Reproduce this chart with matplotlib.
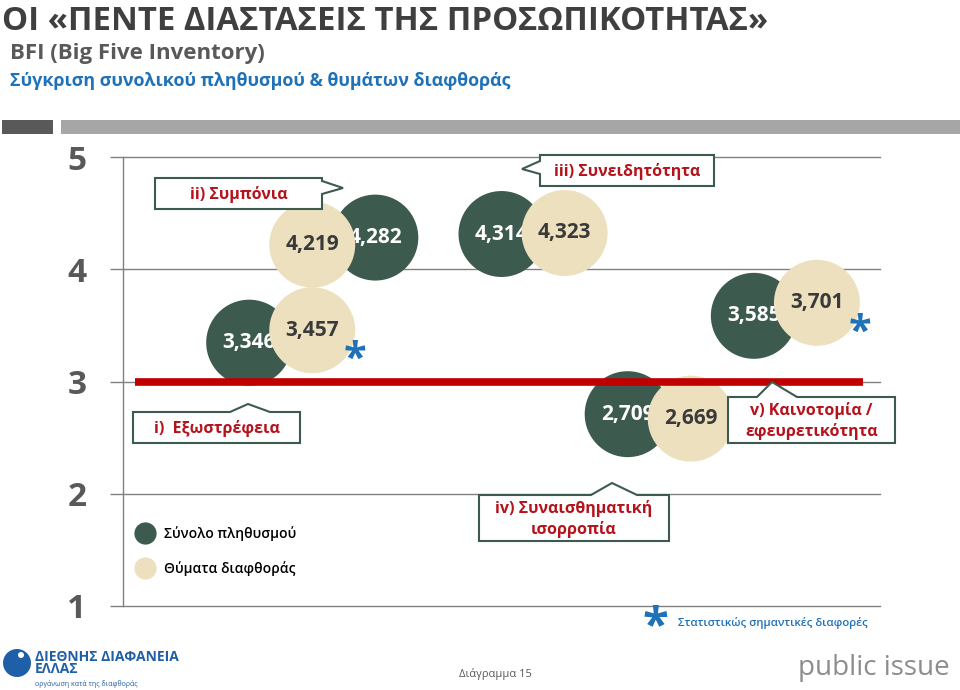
import matplotlib
matplotlib.use("Agg")
import matplotlib.pyplot as plt
from matplotlib.lines import Line2D
from matplotlib.patches import Polygon, Rectangle, Ellipse

plt.rcParams["font.family"] = ["Open Sans", "DejaVu Sans"]

# ---------------------------------------------------------------
# Data
# ---------------------------------------------------------------
trait_labels = [
    "i)  Εξωστρέφεια",
    "ii) Συμπόνια",
    "iii) Συνειδητότητα",
    "iv) Συναισθηματική\nισορροπία",
    "v) Καινοτομία /\nεφευρετικότητα",
]
total_values = [3.346, 4.282, 4.314, 2.709, 3.585]
victim_values = [3.457, 4.219, 4.323, 2.669, 3.701]
total_x = [0, 2, 4, 6, 8]
victim_x = [1, 1, 5, 7, 9]
significant = [True, False, False, False, True]
scale_ticks = [1, 2, 3, 4, 5]
scale_mid = 3

series_names = ["Σύνολο πληθυσμού", "Θύματα διαφθοράς"]

title = "ΟΙ «ΠΕΝΤΕ ΔΙΑΣΤΑΣΕΙΣ ΤΗΣ ΠΡΟΣΩΠΙΚΟΤΗΤΑΣ»"
subtitle = "BFI (Big Five Inventory)"
subtitle2 = "Σύγκριση συνολικού πληθυσμού & θυμάτων διαφθοράς"
footnote = "Στατιστικώς σημαντικές διαφορές"
chart_no = "Διάγραμμα 15"

# ---------------------------------------------------------------
# Styles
# ---------------------------------------------------------------
DARK = "#3d5a4f"
BEIGE = "#ede0bf"
RED = "#c00000"
TEXT_RED = "#b5121b"
BLUE = "#1f72b8"
GRID = "#808080"
BOX_EDGE = "#3d5a50"

W, H = 960, 690
fig = plt.figure(figsize=(W / 100, H / 100), dpi=100)


def px(x, y):
    """pixel coords (from top-left) -> figure fraction"""
    return x / W, 1 - y / H


ax = fig.add_axes([123 / W, 1 - 606 / H, (880 - 123) / W, (606 - 157) / H])
ax.set_xlim(-2, 10)
ax.set_ylim(1, 5)

for side in ["top", "right", "bottom"]:
    ax.spines[side].set_visible(False)
ax.spines["left"].set_color(GRID)
ax.spines["left"].set_linewidth(1)

ax.set_xticks([])
ax.set_yticks(scale_ticks)
ax.set_yticklabels([str(t) for t in scale_ticks], fontsize=24,
                   fontweight="bold", color="#595959")
ax.tick_params(axis="y", length=9.4, width=1, color=GRID, pad=17)
ax.yaxis.grid(True, color=GRID, linewidth=1)
for gl in ax.get_ygridlines():
    gl.set_clip_on(False)
ax.set_axisbelow(True)

# ---------------------------------------------------------------
# Bubbles
# ---------------------------------------------------------------
bubble_size = 3830


def fmt(v):
    return f"{v:.3f}".replace(".", ",")


ax.scatter(total_x, total_values, s=bubble_size, color=DARK,
           edgecolors="none", zorder=2)
for x, v in zip(total_x, total_values):
    ax.text(x, v, fmt(v), ha="center", va="center", fontsize=15,
            fontweight="bold", color="white", zorder=3)

ax.scatter(victim_x, victim_values, s=bubble_size, color=BEIGE,
           edgecolors="none", zorder=4)
for x, v in zip(victim_x, victim_values):
    ax.text(x, v, fmt(v), ha="center", va="center", fontsize=15,
            fontweight="bold", color="#3a3a3a", zorder=5)

for x, v, sig in zip(victim_x, victim_values, significant):
    if sig:
        ax.annotate("*", (x, v), xytext=(31, -22), textcoords="offset points",
                    ha="center", va="center", fontsize=30, fontweight="bold",
                    color=BLUE, zorder=6)

ax.axhline(scale_mid, xmin=0.016, xmax=0.978, color=RED, linewidth=5.5,
           solid_capstyle="butt", zorder=6)

# ---------------------------------------------------------------
# Callouts (pixel geometry)
# ---------------------------------------------------------------
callouts = [
    # box (x0, y0, x1, y1), pointer points
    ((133, 412, 300, 443), [(230, 412), (248, 404), (270, 412)]),
    ((155, 178, 322, 209), [(322, 181), (343, 188), (322, 194)]),
    ((540, 155, 714, 186), [(540, 161), (522, 169), (540, 174)]),
    ((479, 495, 669, 541), [(591, 495), (612, 483), (637, 495)]),
    ((728, 397, 895, 443), [(757, 397), (772, 382), (797, 397)]),
]


def box_outline(box, pointer):
    x0, y0, x1, y1 = box
    corners = [(x0, y0), (x1, y0), (x1, y1), (x0, y1)]
    edges = [(corners[i], corners[(i + 1) % 4]) for i in range(4)]
    pts = []
    p0 = pointer[0]
    for a, b in edges:
        pts.append(a)
        on_edge = ((a[1] == b[1] == p0[1] and min(a[0], b[0]) <= p0[0] <= max(a[0], b[0]))
                   or (a[0] == b[0] == p0[0] and min(a[1], b[1]) <= p0[1] <= max(a[1], b[1])))
        if on_edge:
            seq = list(pointer)
            # order along the edge direction
            d = (b[0] - a[0], b[1] - a[1])
            if (seq[-1][0] - seq[0][0]) * d[0] + (seq[-1][1] - seq[0][1]) * d[1] < 0:
                seq = seq[::-1]
            pts.extend(seq)
    return [px(*p) for p in pts]


for label, (box, pointer) in zip(trait_labels, callouts):
    poly = Polygon(box_outline(box, pointer), closed=True, transform=fig.transFigure,
                   facecolor="white", edgecolor=BOX_EDGE, linewidth=1.5, zorder=5)
    fig.add_artist(poly)
    cx = (box[0] + box[2]) / 2
    cy = (box[1] + box[3]) / 2
    fig.text(*px(cx, cy + 1), label, ha="center", va="center", fontsize=11.5,
             fontweight="bold", color=TEXT_RED, linespacing=1.25, zorder=6)

# ---------------------------------------------------------------
# Legend
# ---------------------------------------------------------------
handles = [
    Line2D([], [], marker="o", linestyle="none", markersize=16,
           markerfacecolor=DARK, markeredgecolor="none"),
    Line2D([], [], marker="o", linestyle="none", markersize=16,
           markerfacecolor=BEIGE, markeredgecolor="none"),
]
fig.legend(handles, series_names, loc="upper left",
           bbox_to_anchor=px(137, 526), frameon=False,
           labelspacing=1.45, handletextpad=0.75, handlelength=1.2,
           borderaxespad=0, borderpad=0,
           prop={"weight": "semibold", "size": 10})

# ---------------------------------------------------------------
# Header
# ---------------------------------------------------------------
fig.text(*px(2, 30), title, ha="left", va="baseline", fontsize=23.7,
         fontweight="bold", color="#3f3f3f")
fig.text(*px(10, 59), subtitle, ha="left", va="baseline", fontsize=16,
         fontweight="bold", color="#595959")
fig.text(*px(10, 86), subtitle2, ha="left", va="baseline", fontsize=12.9,
         fontweight="bold", color=BLUE)

fig.add_artist(Rectangle(px(2, 134), 51 / W, 14 / H, transform=fig.transFigure,
                         facecolor="#595959", edgecolor="none"))
fig.add_artist(Rectangle(px(61, 134), (W - 61) / W, 14 / H, transform=fig.transFigure,
                         facecolor="#a6a6a6", edgecolor="none"))

# ---------------------------------------------------------------
# Footer
# ---------------------------------------------------------------
fig.text(*px(655, 640), "*", ha="center", va="baseline", fontsize=34,
         fontweight="bold", color=BLUE)
fig.text(*px(678, 626), footnote, ha="left", va="baseline", fontsize=8.2,
         fontweight="semibold", color=BLUE)
fig.text(*px(495, 677), chart_no, ha="center", va="baseline", fontsize=8,
         color="#595959")
fig.text(*px(798, 675), "public issue", ha="left", va="baseline", fontsize=20,
         color="#8c8c8c")

# logo
LOGO = "#1f5fa8"
fig.add_artist(Ellipse(px(17, 663), 28 / W, 28 / H, transform=fig.transFigure,
                       facecolor=LOGO, edgecolor="none"))
fig.add_artist(Ellipse(px(21, 655), 6 / W, 6 / H, transform=fig.transFigure,
                       facecolor="white", edgecolor="none"))
fig.text(*px(35, 650), "ΔΙΕΘΝΗΣ ΔΙΑΦΑΝΕΙΑ\nΕΛΛΑΣ", ha="left", va="top",
         fontsize=10, fontweight="bold", color=LOGO, linespacing=0.85)
fig.text(*px(35, 686), "οργάνωση κατά της διαφθοράς", ha="left", va="baseline",
         fontsize=5, color=LOGO)

fig.savefig("out.png", dpi=100)
